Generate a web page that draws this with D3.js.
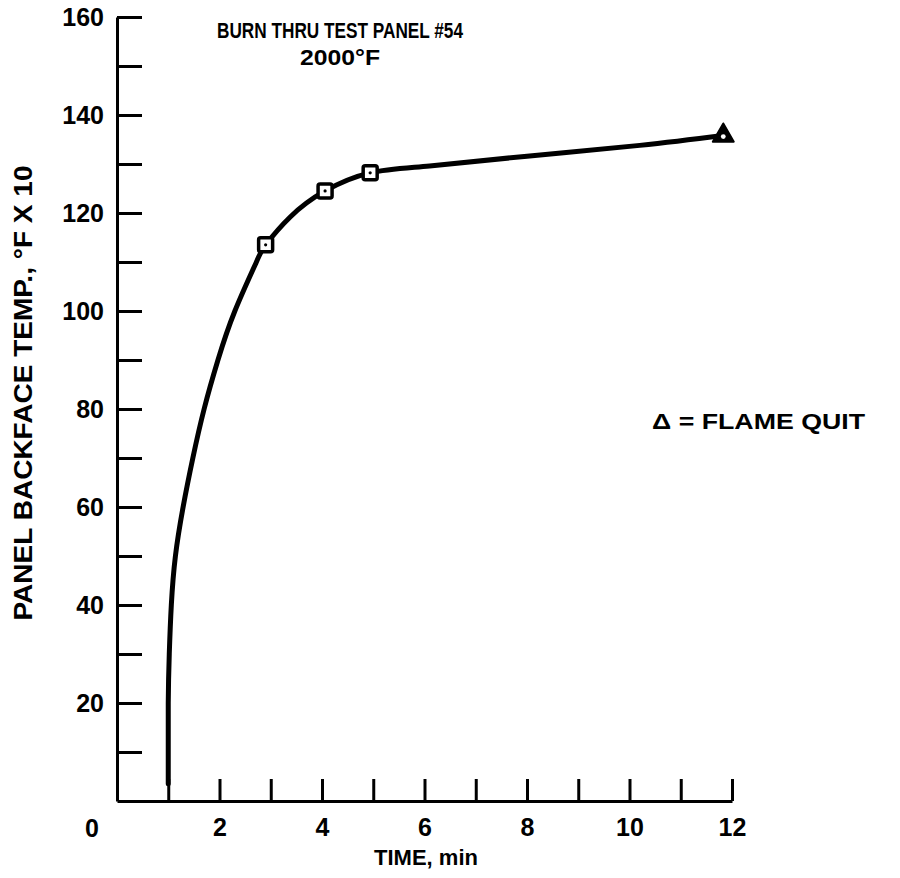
<!DOCTYPE html>
<html>
<head>
<meta charset="utf-8">
<script src="https://cdn.jsdelivr.net/npm/d3@7"></script>
<style>
  body { margin: 0; background: #fff; }
  svg text { font-family: "Liberation Sans", Arial, sans-serif; font-weight: bold; fill: #000; }
</style>
</head>
<body>
<div class="container"></div>
<script>
// curve (time in min, temp in degF x 10)
var curveTime = [1.0, 1.0, 1.02, 1.06, 1.14, 1.29, 1.48, 1.70, 1.97, 2.30, 2.72, 2.9, 3.38, 4.06, 4.94, 6.1, 8.0, 10.2, 11.83];
var curveTemp = [3.5, 20, 30, 40, 50, 60, 70, 80, 90, 100, 110, 113.5, 119.2, 124.5, 128.2, 129.6, 131.6, 133.8, 135.8];

// measured points
var squareTime = [2.9, 4.06, 4.94];
var squareTemp = [113.5, 124.5, 128.2];
var flameTime = [11.83];
var flameTemp = [135.8];

var xTicks = [1, 2, 3, 4, 5, 6, 7, 8, 9, 10, 11, 12];
var yTicks = [10, 20, 30, 40, 50, 60, 70, 80, 90, 100, 110, 120, 130, 140, 150, 160];

var width = 900;
var height = 878;

var svg = d3.select(".container")
    .append("svg")
    .attr("width", width)
    .attr("height", height);

var x = d3.scaleLinear()
    .domain([0, 12])
    .range([117, 732]);

var y = d3.scaleLinear()
    .domain([0, 160])
    .range([801, 17]);

// y axis, ticks pointing inward
svg.append("g")
    .attr("transform", "translate(" + x(0) + ",0)")
    .call(d3.axisLeft(y)
        .tickValues(yTicks)
        .tickSizeInner(-25)
        .tickSizeOuter(0)
        .tickPadding(13)
        .tickFormat(function(d) { return d % 20 == 0 ? d : ""; }));

// x axis, ticks pointing up
svg.append("g")
    .attr("transform", "translate(0," + y(0) + ")")
    .call(d3.axisBottom(x)
        .tickValues(xTicks)
        .tickSizeInner(-22)
        .tickSizeOuter(0)
        .tickPadding(17)
        .tickFormat(function(d) { return d % 2 == 0 ? d : ""; }));

svg.selectAll(".domain, .tick line")
    .attr("stroke", "#000")
    .attr("stroke-width", 3);

svg.selectAll(".tick text")
    .style("font-size", "25px");

// origin label
svg.append("text")
    .attr("x", x(0) - 25)
    .attr("y", y(0) + 36)
    .attr("text-anchor", "middle")
    .style("font-size", "25px")
    .text("0");

// axis titles
svg.append("text")
    .attr("x", 426)
    .attr("y", 865)
    .attr("text-anchor", "middle")
    .style("font-size", "22px")
    .text("TIME, min");

svg.append("text")
    .attr("transform", "translate(32,393) rotate(-90)")
    .attr("text-anchor", "middle")
    .attr("textLength", 455)
    .attr("lengthAdjust", "spacingAndGlyphs")
    .style("font-size", "26px")
    .text("PANEL BACKFACE TEMP., °F X 10");

// title
svg.append("text")
    .attr("x", 340)
    .attr("y", 38)
    .attr("text-anchor", "middle")
    .attr("textLength", 246)
    .attr("lengthAdjust", "spacingAndGlyphs")
    .style("font-size", "22px")
    .text("BURN THRU TEST PANEL #54");

svg.append("text")
    .attr("x", 340)
    .attr("y", 65)
    .attr("text-anchor", "middle")
    .attr("textLength", 80)
    .attr("lengthAdjust", "spacingAndGlyphs")
    .style("font-size", "22px")
    .text("2000°F");

// legend note
svg.append("text")
    .attr("x", 652)
    .attr("y", 429)
    .attr("textLength", 213)
    .attr("lengthAdjust", "spacingAndGlyphs")
    .style("font-size", "22px")
    .text("Δ = FLAME QUIT");

// curve
var pts = curveTime.map(function(t, i) { return [t, curveTemp[i]]; });

var line = d3.line()
    .x(function(d) { return x(d[0]); })
    .y(function(d) { return y(d[1]); })
    .curve(d3.curveNatural);

svg.append("path")
    .datum(pts)
    .attr("fill", "none")
    .attr("stroke", "#000")
    .attr("stroke-width", 5)
    .attr("stroke-linecap", "round")
    .attr("d", line);

// square markers
var sq = squareTime.map(function(t, i) { return [t, squareTemp[i]]; });

svg.selectAll(".sq")
    .data(sq)
    .enter()
    .append("rect")
    .attr("class", "sq")
    .attr("x", function(d) { return x(d[0]) - 7; })
    .attr("y", function(d) { return y(d[1]) - 7; })
    .attr("width", 14)
    .attr("height", 14)
    .attr("rx", 2)
    .attr("fill", "#fff")
    .attr("stroke", "#000")
    .attr("stroke-width", 3.5);

svg.selectAll(".dot")
    .data(sq)
    .enter()
    .append("circle")
    .attr("cx", function(d) { return x(d[0]); })
    .attr("cy", function(d) { return y(d[1]); })
    .attr("r", 1.6)
    .attr("fill", "#000");

// flame quit triangle
var fl = flameTime.map(function(t, i) { return [t, flameTemp[i]]; });

svg.selectAll(".tri")
    .data(fl)
    .enter()
    .append("path")
    .attr("d", d3.symbol().type(d3.symbolTriangle).size(190))
    .attr("transform", function(d) { return "translate(" + x(d[0]) + "," + y(d[1]) + ")"; })
    .attr("fill", "#000")
    .attr("stroke", "#000")
    .attr("stroke-width", 2)
    .attr("stroke-linejoin", "round");

svg.selectAll(".tridot")
    .data(fl)
    .enter()
    .append("circle")
    .attr("cx", function(d) { return x(d[0]); })
    .attr("cy", function(d) { return y(d[1]) + 1; })
    .attr("r", 2.4)
    .attr("fill", "#fff");
</script>
</body>
</html>
